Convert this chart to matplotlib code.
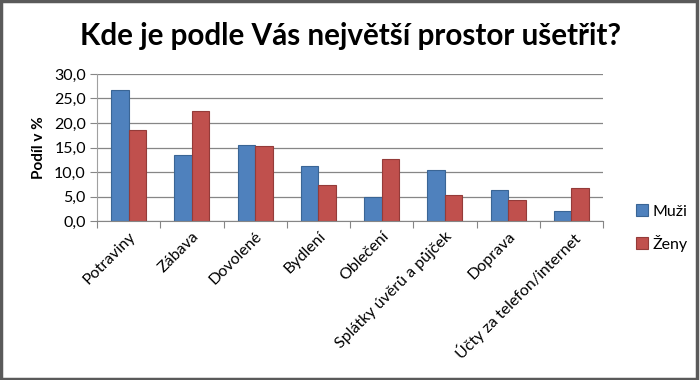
import matplotlib
matplotlib.use("Agg")
import matplotlib.pyplot as plt
import matplotlib.ticker as mticker
from matplotlib.patches import Rectangle
import numpy as np

categories = ["Potraviny", "Zábava", "Dovolené", "Bydlení", "Oblečení",
              "Splátky úvěrů a půjček", "Doprava", "Účty za telefon/internet"]
muzi = [26.8, 13.5, 15.6, 11.3, 4.9, 10.4, 6.4, 2.1]
zeny = [18.5, 22.5, 15.4, 7.3, 12.6, 5.4, 4.2, 6.8]

plt.rcParams["font.family"] = ["Lato", "DejaVu Sans"]

fig = plt.figure(figsize=(7, 3.8), dpi=100)
ax = fig.add_axes([97 / 700, 1 - 221 / 380, 506 / 700, 147 / 380])

x = np.arange(len(categories))
w = 0.275
ax.bar(x - w / 2, muzi, w, color="#4F81BD", edgecolor="#3A6595", linewidth=0.8, label="Muži")
ax.bar(x + w / 2, zeny, w, color="#C0504D", edgecolor="#943B39", linewidth=0.8, label="Ženy")

ax.set_xlim(-0.5, len(categories) - 0.5)
ax.set_ylim(0, 30)
ax.yaxis.set_major_locator(mticker.MultipleLocator(5))
ax.yaxis.set_major_formatter(mticker.FuncFormatter(lambda v, _: f"{v:.1f}".replace(".", ",")))
ax.grid(axis="y", color="#868686", linewidth=0.9)
ax.set_axisbelow(True)

# ticks sit between categories, labels at the centres
ax.set_xticks(np.arange(len(categories) + 1) - 0.5)
ax.set_xticklabels([])
ax.set_xticks(x, minor=True)
ax.set_xticklabels(categories, minor=True, rotation=45, ha="right", va="top",
                   rotation_mode="anchor", fontsize=11.5)
ax.tick_params(axis="x", which="minor", length=0, pad=6)
ax.tick_params(axis="x", which="major", length=5, color="#868686")
ax.tick_params(axis="y", length=5, color="#868686", labelsize=11.5, pad=3)

for side in ["top", "right"]:
    ax.spines[side].set_visible(False)
ax.spines["bottom"].set_color("#868686")
ax.spines["left"].set_color("#A0A0A0")

ax.set_ylabel("Podíl v %", fontsize=11, fontweight="bold", labelpad=6)

fig.text(0.5, 1 - 36 / 380, "Kde je podle Vás největší prostor ušetřit?",
         ha="center", va="center", fontsize=21.3, fontweight="bold")

fig.legend(loc="upper left", bbox_to_anchor=(622 / 700, 1 - 190 / 380),
           frameon=False, fontsize=11.5, handlelength=0.7, handleheight=0.7,
           handletextpad=0.3, labelspacing=1.0)

fig.patches.append(Rectangle((0.002, 0.003), 0.993, 0.994, transform=fig.transFigure,
                             fill=False, edgecolor="#5A5A5A", linewidth=2.5))

fig.savefig("out.png", dpi=100, facecolor="white")
